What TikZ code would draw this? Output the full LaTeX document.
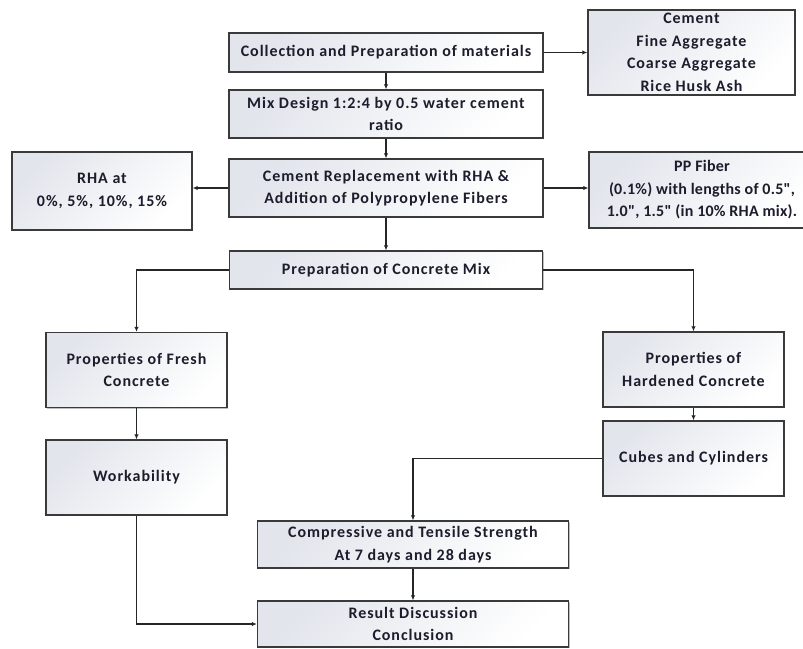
\documentclass[tikz,border=0pt]{standalone}
\usepackage{fontspec}
\setmainfont{Carlito}
\newfontfamily\boxfont[LetterSpace=6]{Carlito}
\newfontfamily\tightfont[LetterSpace=1.5]{Carlito}
\usetikzlibrary{arrows.meta,shadows}
\definecolor{txt}{HTML}{1C1C2C}
\definecolor{edge}{HTML}{3A3A3A}
\definecolor{fillA}{HTML}{E2E5EC}
\tikzset{
  box/.style={draw=edge, line width=1.4pt, left color=fillA, right color=white, shading angle=45,
    align=center, text=txt, font=\boxfont\bfseries\fontsize{16}{22.5}\selectfont, inner sep=2pt,
    drop shadow={shadow xshift=1.2pt, shadow yshift=-1.2pt, opacity=0.25, fill=black}},
  conn/.style={line width=1.1pt, draw=black!85, -{Latex[length=5pt,width=4.5pt]}}
}
\begin{document}
\begin{tikzpicture}[x=1pt,y=-1pt]
\useasboundingbox (0,0) rectangle (803,648);
\clip (0,0) rectangle (803,648);
\fill[white] (0,0) rectangle (803,648);
\node[box, minimum width=314pt, minimum height=39pt] (collect) at (386,52.5) {Collection and Preparation of materials};
\node[box, minimum width=207pt, minimum height=85pt] (mat) at (691.5,52.5) {Cement\\Fine Aggregate\\Coarse Aggregate\\Rice Husk Ash};
\node[box, minimum width=314pt, minimum height=48pt] (mix) at (386,114) {Mix Design 1:2:4 by 0.5 water cement\\ratio};
\node[box, minimum width=314pt, minimum height=58pt] (repl) at (386,188) {Cement Replacement with RHA \&\\Addition of Polypropylene Fibers};
\node[box, minimum width=180pt, minimum height=78pt] (rha) at (102,191) {RHA at\\0\%, 5\%, 10\%, 15\%};
\node[box, minimum width=226pt, minimum height=76pt, font=\tightfont\bfseries\fontsize{16}{22.5}\selectfont] (pp) at (702,190) {PP Fiber\\(0.1\%) with lengths of 0.5",\\1.0", 1.5" (in 10\% RHA mix).};
\node[box, minimum width=313pt, minimum height=38pt] (prep) at (386,270) {Preparation of Concrete Mix};
\node[box, minimum width=181pt, minimum height=75pt] (fresh) at (136.5,370) {Properties of Fresh\\Concrete};
\node[box, minimum width=181pt, minimum height=75pt] (work) at (136.5,477.5) {Workability};
\node[box, minimum width=181pt, minimum height=75pt] (hard) at (693.5,369.5) {Properties of\\Hardened Concrete};
\node[box, minimum width=181pt, minimum height=75pt] (cube) at (693.5,458.5) {Cubes and Cylinders};
\node[box, minimum width=311pt, minimum height=47pt] (comp) at (413,544.5) {Compressive and Tensile Strength\\At 7 days and 28 days};
\node[box, minimum width=311pt, minimum height=46pt] (res) at (413,624) {Result Discussion\\Conclusion};

\draw[conn] (collect.east) -- (mat.west);
\draw[conn] (collect.south) -- (mix.north);
\draw[conn] (mix.south) -- (repl.north);
\draw[conn] (repl.west) -- (rha.east |- repl.west);
\draw[conn] (repl.east) -- (pp.west |- repl.east);
\draw[conn] (repl.south) -- (prep.north);
\draw[conn] (prep.west) -| (fresh.north);
\draw[conn] (prep.east) -| (hard.north);
\draw[conn] (fresh.south) -- (work.north);
\draw[conn] (hard.south) -- (cube.north);
\draw[conn] (cube.west) -| (comp.north);
\draw[conn] (comp.south) -- (res.north);
\draw[conn] (work.south) |- (res.west);
\end{tikzpicture}
\end{document}
